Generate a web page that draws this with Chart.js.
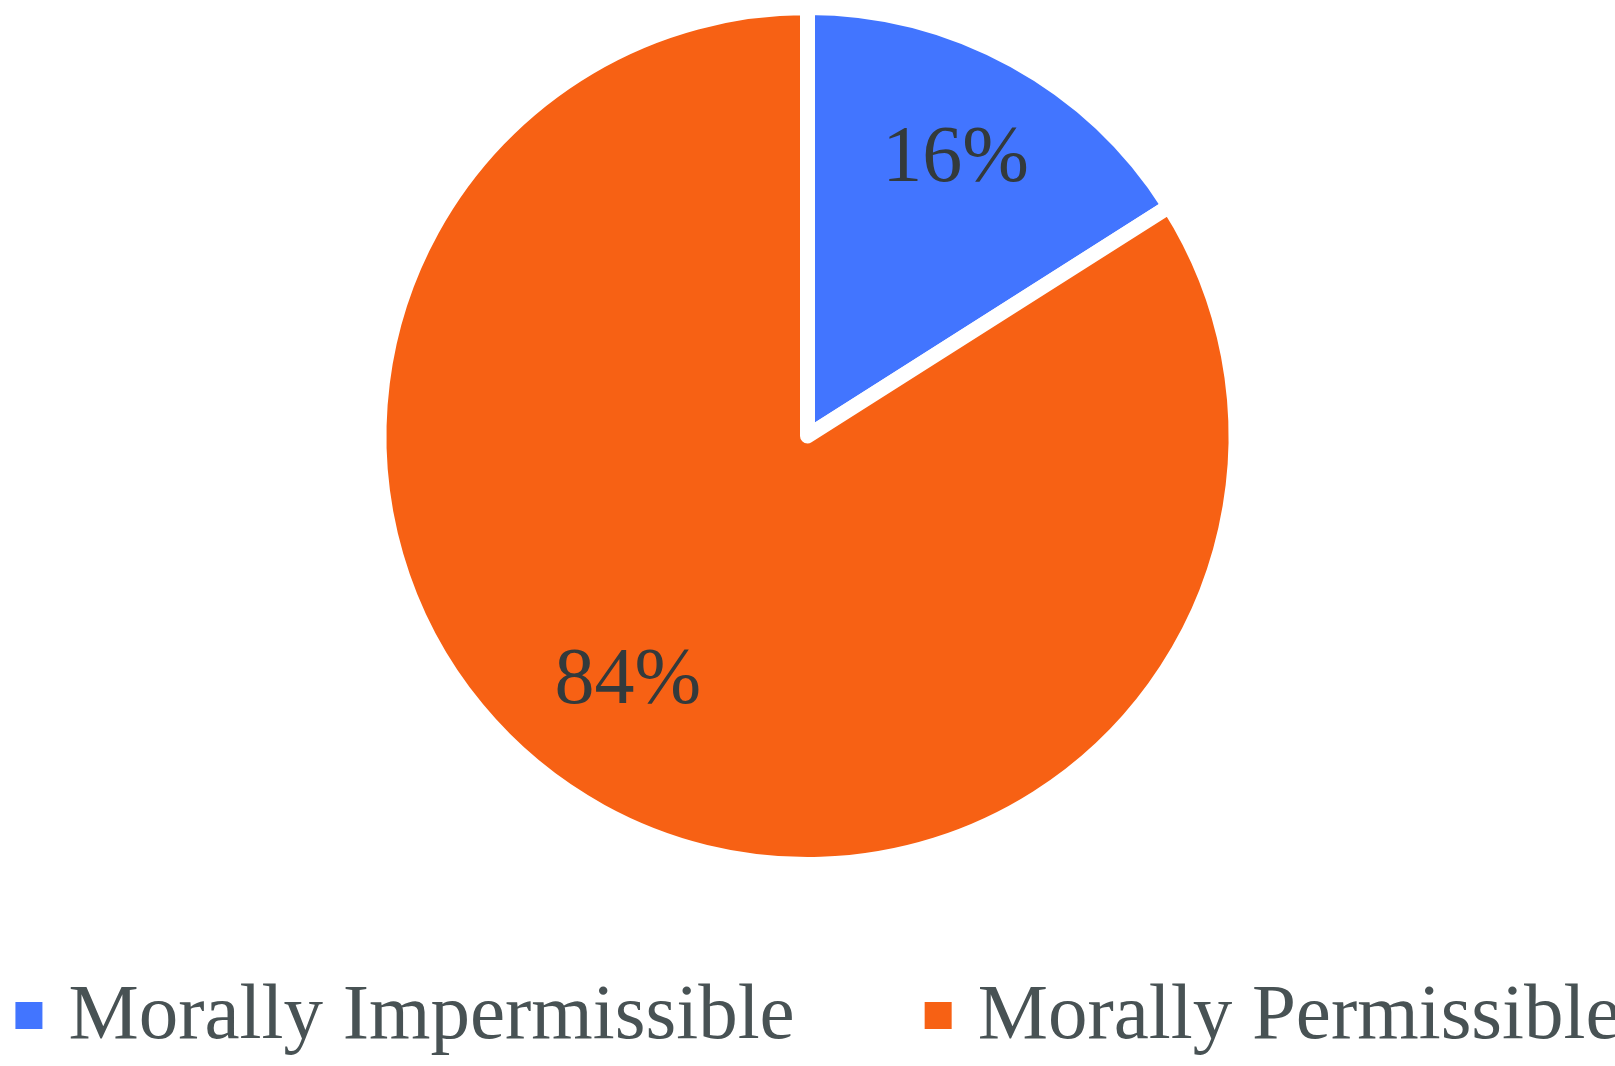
<!DOCTYPE html>
<html>
<head>
<meta charset="utf-8">
<script src="https://cdn.jsdelivr.net/npm/chart.js@4.4.1/dist/chart.umd.min.js"></script>
<style>
  html, body { margin: 0; padding: 0; background: #fff; }
  #wrap { width: 1615px; height: 1066px; }
</style>
</head>
<body>
<div id="wrap"><canvas id="pie"></canvas></div>
<script>
// data
const categories = ['Morally Impermissible', 'Morally Permissible'];
const shares = [16, 84];
const sliceColors = ['#4275ff', '#f76114'];

// label placement tweaks (fraction of radius, angle shift in degrees)
const labelRadius = [0.743, 0.70];
const labelShift = [-1.1, 8];

const serif = '"Liberation Serif", "DejaVu Serif", serif';

// percentage labels inside slices
const sliceLabels = {
  id: 'sliceLabels',
  afterDatasetsDraw(chart) {
    const ctx = chart.ctx;
    const arcs = chart.getDatasetMeta(0).data;
    ctx.save();
    ctx.font = '80px ' + serif;
    ctx.fillStyle = '#333a3c';
    ctx.textAlign = 'center';
    ctx.textBaseline = 'alphabetic';
    arcs.forEach((arc, i) => {
      const p = arc.getProps(['x', 'y', 'startAngle', 'endAngle', 'outerRadius'], true);
      const mid = (p.startAngle + p.endAngle) / 2 + labelShift[i] * Math.PI / 180;
      const r = p.outerRadius * labelRadius[i];
      const cx = p.x + Math.cos(mid) * r;
      const cy = p.y + Math.sin(mid) * r;
      ctx.fillText(shares[i] + '%', cx, cy + 27);
    });
    ctx.restore();
  }
};

// bottom legend with wide spacing
const bottomLegend = {
  id: 'bottomLegend',
  afterDraw(chart) {
    const ctx = chart.ctx;
    const box = 27, gapText = 26, gapItem = 130;
    ctx.save();
    ctx.font = '79px ' + serif;
    const widths = categories.map(t => ctx.measureText(t).width);
    let total = 0;
    widths.forEach((w, i) => { total += box + gapText + w + (i ? gapItem : 0); });
    let x = 818 - total / 2;
    const baseline = 1038;
    categories.forEach((t, i) => {
      ctx.fillStyle = sliceColors[i];
      ctx.fillRect(x, 1002, box, box);
      x += box + gapText;
      ctx.fillStyle = '#485254';
      ctx.textAlign = 'left';
      ctx.textBaseline = 'alphabetic';
      ctx.fillText(t, x, baseline);
      x += widths[i] + gapItem;
    });
    ctx.restore();
  }
};

new Chart(document.getElementById('pie'), {
  type: 'pie',
  data: {
    labels: categories,
    datasets: [{
      data: shares,
      backgroundColor: sliceColors,
      borderColor: '#ffffff',
      borderWidth: 15,
      borderJoinStyle: 'round',
      hoverOffset: 0
    }]
  },
  options: {
    responsive: true,
    maintainAspectRatio: false,
    animation: false,
    layout: { padding: { top: 0, bottom: 194, left: 0, right: 0 } },
    plugins: {
      legend: { display: false },
      tooltip: { enabled: false }
    }
  },
  plugins: [sliceLabels, bottomLegend]
});
</script>
</body>
</html>
